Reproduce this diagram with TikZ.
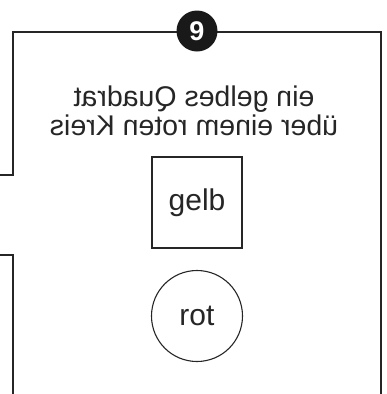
\documentclass[tikz,border=0pt]{standalone}
\usepackage{fontspec}
\setmainfont{Liberation Sans}
\begin{document}
\begin{tikzpicture}[x=1pt,y=-1pt,
  frame/.style={line width=1.2pt, draw=black!85},
  shapeline/.style={line width=1.1pt, draw=black!85},
  label/.style={font=\fontsize{30}{32}\selectfont, text=black!85}]
\useasboundingbox (0,0) rectangle (387,394);
\coordinate (tl) at (13,32);
\coordinate (tr) at (381,32);
\coordinate (br) at (381,394);
\coordinate (la) at (0,175);
\coordinate (lb) at (13,175);
\coordinate (lc) at (0,255);
\coordinate (ld) at (13,255);
\coordinate (le) at (13,394);
\draw[frame] (la) -- (lb) -- (tl) -- (tr) -- (br);
\draw[frame] (lc) -- (ld) -- (le);
\node[circle, fill=black!90, minimum size=41pt, inner sep=0pt, text=white,
  font=\fontsize{27}{27}\selectfont\bfseries] (num) at (197,31) {9};
\node[xscale=-1, align=center, font=\fontsize{28.5}{29}\selectfont, text=black!85] (title) at (194,111)
  {ein gelbes Quadrat\\über einem roten Kreis};
\node[shapeline, rectangle, minimum width=90pt, minimum height=91pt, label] (gelb) at (197,202.5) {gelb};
\node[shapeline, circle, minimum size=91pt, inner sep=0pt, label] (rot) at (197,316) {rot};
\end{tikzpicture}
\end{document}
